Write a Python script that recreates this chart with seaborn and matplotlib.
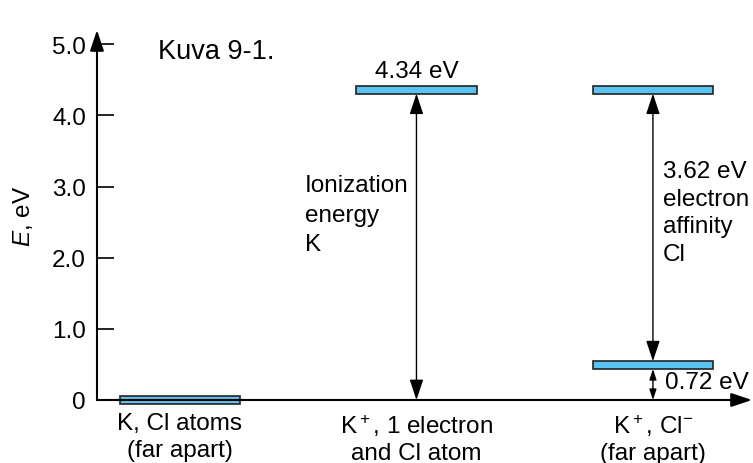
import matplotlib
matplotlib.use("Agg")
import matplotlib.pyplot as plt
import seaborn as sns
import numpy as np

# states along the x axis
states = ["K, Cl atoms\n(far apart)", "K$^+$, 1 electron\nand Cl atom", "K$^+$, Cl$^{-}$\n(far apart)"]

# energy levels (as drawn in the picture)
level_x = [0, 1, 2, 2]
level_e = [0.0, 4.36, 4.36, 0.49]

# double-headed arrows: x, from, to
arrow_x = [1, 2, 2]
arrow_lo = [0.0, 0.49, 0.0]
arrow_hi = [4.36, 4.36, 0.49]

yticks = [0, 1, 2, 3, 4, 5]
ytick_labels = ["0", "1.0", "2.0", "3.0", "4.0", "5.0"]

sns.set_style("white")
plt.rcParams['font.family'] = ['Liberation Sans', 'DejaVu Sans']
plt.rcParams['mathtext.fontset'] = 'custom'
plt.rcParams['mathtext.rm'] = 'Liberation Sans'
plt.rcParams['mathtext.it'] = 'Liberation Sans:italic'
for k in ['text.color', 'axes.labelcolor', 'xtick.color', 'ytick.color']:
    plt.rcParams[k] = 'black'

fs = 17.5

fig = plt.figure(figsize=(7.53, 4.64), dpi=100)
ax = fig.add_axes([0.1288, 0.1358, 0.8699, 0.7974])
ax.set_xlim(-0.351, 2.419)
ax.set_ylim(0, 5.2)

bar_h = 0.11
bar_w = 0.51
ax.bar(level_x, bar_h, bottom=np.array(level_e) - bar_h / 2, width=bar_w,
       color='#5bc3ef', edgecolor='#222222', linewidth=1.2, clip_on=False, zorder=3)

for x, lo, hi in zip(arrow_x, arrow_lo, arrow_hi):
    lo2 = lo + (bar_h / 2 if lo > 0 else 0)
    hi2 = hi - bar_h / 2
    small = (hi - lo) < 1
    ms = 7 if small else 14
    ax.annotate('', xy=(x, hi2), xytext=(x, lo2),
                arrowprops=dict(arrowstyle='<|-|>,head_length=0.9,head_width=0.3',
                                color='black', lw=1.0, shrinkA=0, shrinkB=0,
                                mutation_scale=ms), zorder=2)

# axes with arrow heads
for s in ax.spines.values():
    s.set_visible(False)
ax.annotate('', xy=(0, 1), xytext=(0, 0), xycoords='axes fraction',
            arrowprops=dict(arrowstyle='-|>,head_length=0.9,head_width=0.3', color='black',
                            lw=1.5, shrinkA=0, shrinkB=0, mutation_scale=14))
ax.annotate('', xy=(1, 0), xytext=(0, 0), xycoords='axes fraction',
            arrowprops=dict(arrowstyle='-|>,head_length=0.9,head_width=0.3', color='black',
                            lw=1.5, shrinkA=0, shrinkB=0, mutation_scale=14))

ax.set_yticks(yticks, ytick_labels, fontsize=fs)
ax.tick_params(axis='y', direction='in', length=12, width=1.2, pad=8, left=True)
ax.set_xticks([0, 1, 2], states, fontsize=fs, linespacing=1.24)
ax.tick_params(axis='x', length=0, pad=9)
ax.set_ylabel('$E$, eV', fontsize=fs, labelpad=12)

ax.text(-0.093, 4.90, 'Kuva 9-1.', fontsize=19.5, ha='left', va='center')
ax.text(1.0, 4.63, '4.34 eV', fontsize=fs, ha='center', va='center')
ax.text(0.529, 3.17, 'Ionization\nenergy\nK', fontsize=fs, ha='left', va='top', linespacing=1.42)
ax.text(2.042, 3.37, '3.62 eV\nelectron\naffinity\nCl', fontsize=fs, ha='left', va='top', linespacing=1.32)
ax.text(2.05, 0.25, '0.72 eV', fontsize=fs, ha='left', va='center')

fig.savefig('out.png', dpi=100)
